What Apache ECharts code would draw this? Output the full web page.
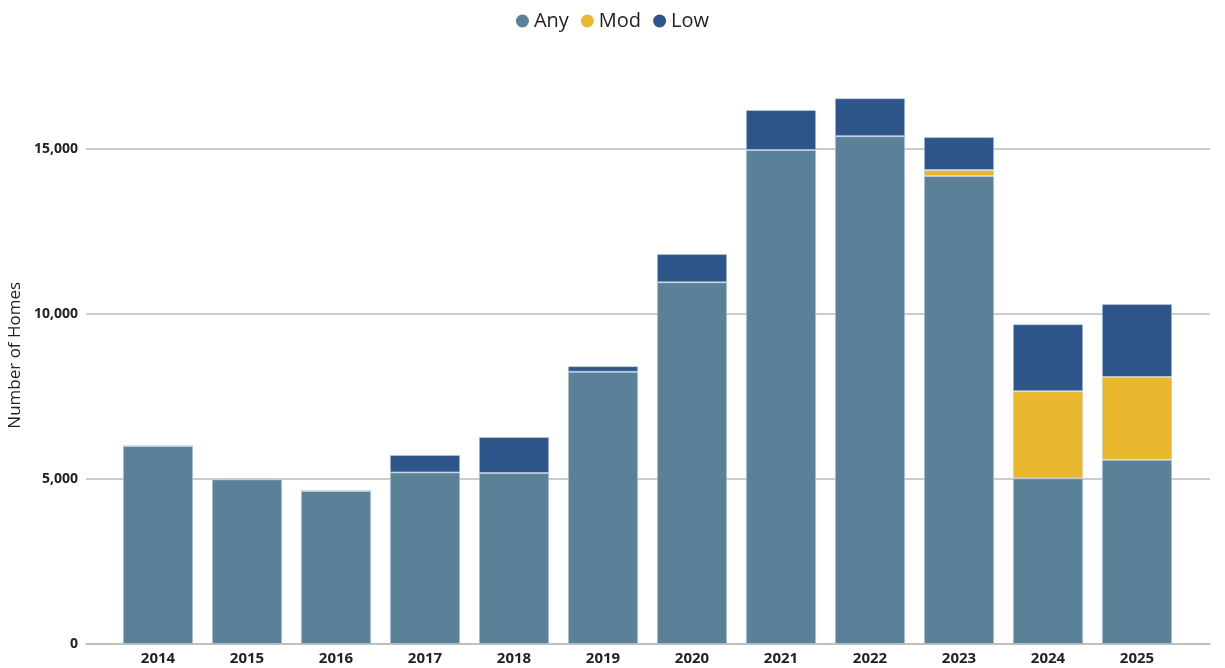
<!DOCTYPE html>
<html>
<head>
<meta charset="utf-8">
<script src="https://cdn.jsdelivr.net/npm/echarts@6/dist/echarts.min.js"></script>
<style>
html,body{margin:0;padding:0;background:#fff;}
#chart{width:1225px;height:668px;}
</style>
</head>
<body>
<div id="chart"></div>
<script>
const categories = ['2014','2015','2016','2017','2018','2019','2020','2021','2022','2023','2024','2025'];
const anyValues = [6000, 4990, 4640, 5200, 5180, 8250, 10960, 14970, 15390, 14180, 5020, 5580];
const modValues = [0, 0, 0, 0, 0, 0, 0, 0, 0, 180, 2640, 2510];
const lowValues = [0, 0, 0, 530, 1090, 170, 860, 1210, 1150, 1000, 2030, 2210];
const yTicks = [0, 5000, 10000, 15000];

const FONT = '"Open Sans", "Noto Sans", sans-serif';
const chart = echarts.init(document.getElementById('chart'));
const barBorder = { borderColor: 'rgba(195,210,228,0.55)', borderWidth: 1 };

chart.setOption({
  animation: false,
  backgroundColor: '#fff',
  legend: {
    top: 6,
    left: 'center',
    icon: 'circle',
    itemWidth: 13,
    itemHeight: 13,
    itemGap: 12,
    itemStyle: { borderWidth: 0 },
    textStyle: { fontFamily: FONT, fontSize: 20, color: '#222' },
    data: ['Any', 'Mod', 'Low']
  },
  grid: [
    { left: 113.5, right: 43.5, top: 66.5, bottom: 24, containLabel: false, outerBoundsMode: 'none' },
    { left: 86, right: 15, top: 149, bottom: 24, containLabel: false, outerBoundsMode: 'none' }
  ],
  xAxis: [
    {
      type: 'category', gridIndex: 0, data: categories,
      axisLine: { show: false }, axisTick: { show: false },
      axisLabel: { fontFamily: FONT, fontSize: 15, fontWeight: 'bold', color: '#222', margin: 7 }
    },
    {
      type: 'value', gridIndex: 1, min: 0, max: 1,
      axisLine: { show: true, onZero: false, lineStyle: { color: '#bbbbbb', width: 1.5 } },
      axisTick: { show: false }, axisLabel: { show: false }, splitLine: { show: false }
    }
  ],
  yAxis: [
    {
      type: 'value', gridIndex: 0, min: 0, max: 17500, interval: 2500,
      axisLabel: { show: false }, splitLine: { show: false },
      axisLine: { show: false }, axisTick: { show: false },
      name: 'Number of Homes', nameLocation: 'middle', nameGap: 90,
      nameTextStyle: { fontFamily: FONT, fontSize: 17, color: '#222' }
    },
    {
      type: 'value', gridIndex: 1, min: yTicks[0], max: yTicks[yTicks.length - 1], interval: 5000,
      axisLine: { show: false }, axisTick: { show: false },
      axisLabel: {
        fontFamily: FONT, fontSize: 14, fontWeight: 'bold', color: '#222', margin: 8,
        formatter: v => v.toLocaleString('en-US')
      },
      splitLine: { show: true, lineStyle: { color: '#bbbbbb', width: 1.5 } }
    }
  ],
  series: [
    { name: 'Any', type: 'bar', stack: 'total', xAxisIndex: 0, yAxisIndex: 0, data: anyValues,
      barCategoryGap: '21%', itemStyle: Object.assign({ color: '#5b8199' }, barBorder) },
    { name: 'Mod', type: 'bar', stack: 'total', xAxisIndex: 0, yAxisIndex: 0, data: modValues,
      itemStyle: Object.assign({ color: '#e9b82f' }, barBorder) },
    { name: 'Low', type: 'bar', stack: 'total', xAxisIndex: 0, yAxisIndex: 0, data: lowValues,
      itemStyle: Object.assign({ color: '#2e558a' }, barBorder) }
  ]
});
</script>
</body>
</html>
